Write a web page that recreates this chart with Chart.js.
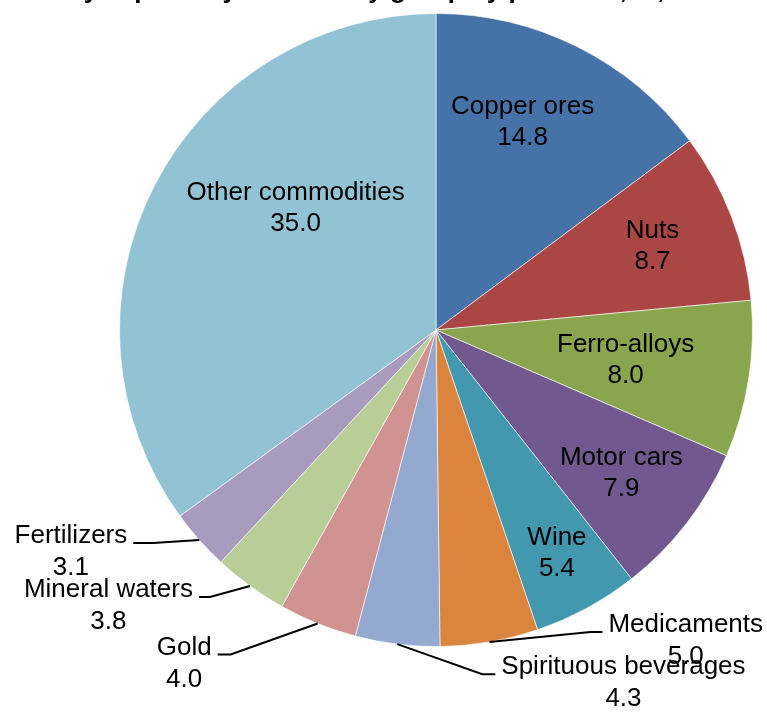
<!DOCTYPE html>
<html>
<head>
<meta charset="utf-8">
<script src="https://cdn.jsdelivr.net/npm/chart.js@4"></script>
<style>
  html, body { margin: 0; padding: 0; background: #fff; }
  #wrap { position: relative; width: 767px; height: 713px; }
</style>
</head>
<body>
<div id="wrap"><canvas id="pie" width="767" height="713"></canvas></div>
<script>
  // ── Data ──────────────────────────────────────────────
  const titleText = 'Key exports by commodity group by products, %, 2014';
  const categories = ['Copper ores', 'Nuts', 'Ferro-alloys', 'Motor cars', 'Wine', 'Medicaments',
                      'Spirituous beverages', 'Gold', 'Mineral waters', 'Fertilizers', 'Other commodities'];
  const shares = [14.8, 8.7, 8.0, 7.9, 5.4, 5.0, 4.3, 4.0, 3.8, 3.1, 35.0];
  const sliceColors = ['#4572A7', '#AA4643', '#89A54E', '#71588F', '#4198AF', '#DB843D',
                       '#93A9CF', '#D19392', '#B9CD96', '#A99BBD', '#92C3D4'];

  // ── Label layout (style only) ─────────────────────────
  // inside: radius in px from centre, angle shift in degrees
  // outside: elbow offset from slice edge, tail length
  const labelLayout = [
    { r: 225, dAng: -4 },
    { r: 232, dAng: 0 },
    { r: 192, dAng: 0 },
    { r: 234, dAng: 0 },
    { r: 254, dAng: 0 },
    { out: true, dx: 101, dy: -10, tail: 12 },
    { out: true, dx: 85, dy: 30, tail: 13 },
    { out: true, dx: -87, dy: 31, tail: 13 },
    { out: true, dx: -40, dy: 11, tail: 11 },
    { out: true, dx: -46, dy: 3, tail: 20 },
    { r: 186, dAng: 14 }
  ];

  const FONT = '26px "Liberation Sans", Arial, sans-serif';
  const LINE_H = 31;

  const labelPlugin = {
    id: 'sliceLabels',
    afterDatasetsDraw(chart) {
      const ctx = chart.ctx;
      const arcs = chart.getDatasetMeta(0).data;
      ctx.save();
      ctx.font = FONT;
      ctx.fillStyle = '#000';
      arcs.forEach((arc, i) => {
        const lay = labelLayout[i];
        const mid = (arc.startAngle + arc.endAngle) / 2;
        const name = categories[i];
        const val = shares[i].toFixed(1);
        if (!lay.out) {
          const a = mid + lay.dAng * Math.PI / 180;
          const cx = arc.x + lay.r * Math.cos(a);
          const cy = arc.y + lay.r * Math.sin(a);
          ctx.textAlign = 'center';
          ctx.textBaseline = 'middle';
          ctx.fillText(name, cx, cy - LINE_H / 2);
          ctx.fillText(val, cx, cy + LINE_H / 2);
          return;
        }
        // leader line
        const ex = arc.x + arc.outerRadius * Math.cos(mid);
        const ey = arc.y + arc.outerRadius * Math.sin(mid);
        const kx = ex + lay.dx, ky = ey + lay.dy;
        const side = lay.dx > 0 ? 1 : -1;
        const tx = kx + side * lay.tail;
        ctx.beginPath();
        ctx.moveTo(ex, ey); ctx.lineTo(kx, ky); ctx.lineTo(tx, ky);
        ctx.strokeStyle = '#000'; ctx.lineWidth = 2;
        ctx.stroke();
        const w = ctx.measureText(name).width;
        const cx = tx + side * (6 + w / 2);
        ctx.textAlign = 'center';
        ctx.textBaseline = 'alphabetic';
        ctx.fillText(name, cx, ky);
        ctx.fillText(val, cx, ky + LINE_H + 1);
      });
      // title sits above the picture, only its descenders show
      ctx.font = 'bold 26px "Liberation Sans", Arial, sans-serif';
      ctx.textAlign = 'center';
      ctx.textBaseline = 'alphabetic';
      ctx.fillText(titleText, 390, -2);
      ctx.restore();
    }
  };

  new Chart(document.getElementById('pie').getContext('2d'), {
    type: 'pie',
    data: {
      labels: categories,
      datasets: [{
        data: shares,
        backgroundColor: sliceColors,
        borderColor: 'rgba(255,255,255,0.6)',
        borderWidth: 1,
        hoverOffset: 0
      }]
    },
    options: {
      responsive: false, animation: false, events: [],
      layout: { padding: { left: 119, right: 14, top: 13, bottom: 66 } },
      plugins: { legend: { display: false }, tooltip: { enabled: false }, title: { display: false } }
    },
    plugins: [labelPlugin]
  });
</script>
</body>
</html>
